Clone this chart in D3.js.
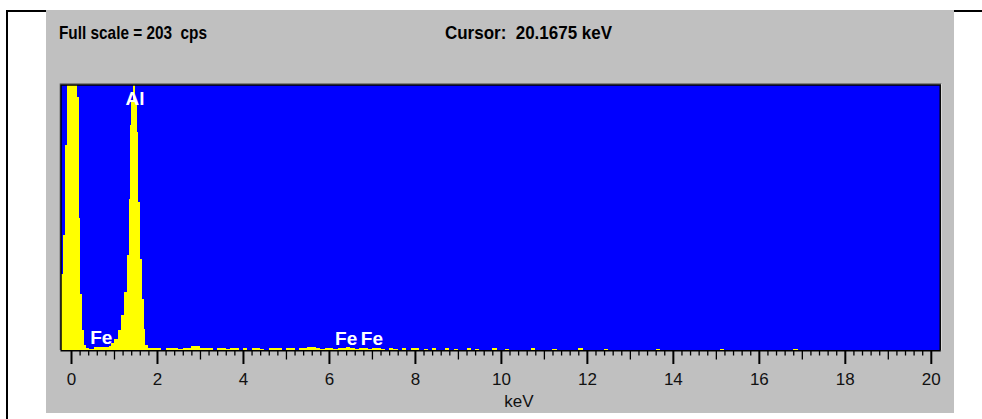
<!DOCTYPE html>
<html><head><meta charset="utf-8">
<script src="https://cdn.jsdelivr.net/npm/d3@7"></script>
<style>body{margin:0;background:#fff;} svg{display:block;} text{font-family:"Liberation Sans",Arial,sans-serif;}</style>
</head><body>
<svg id="c" width="982" height="419"></svg>
<script>
// ---- data ----
const fullScale = 203;            // cps
const cursorKeV = "20.1675";
// peak region bins: start energy (keV) and counts (cps)
const peakStart = [-0.233,-0.179,-0.147,-0.100,0.133,0.179,0.216,0.256,0.310,0.349,0.419,0.535,0.768,0.884,0.931,
  1.008,1.087,1.164,1.240,1.296,1.343,1.373,1.403,1.450,1.496,1.536,1.566,1.606,1.652,1.699,1.729,1.785];
const peakCps   = [58,88,157,600,194,101,43,15,3.6,1.5,1,2,2,3,5,
  8.7,15,26.6,44.4,72.5,116,172,190,215,190,167,113,70,39,16,3.6,1.5];
// background bins, 0.1 keV wide, from 1.9 keV
const bgStart = 1.9, bgWidth = 0.1;
const bgCps = [1.5,1.5,0,1.5,1.5,1.5,1,1.5,1.5,3,3,
  1.5,1.5,1.5,0,1.5,1.5,1,1.5,1.5,0,
  1.5,0,1.5,1.5,1,0,1.5,1.5,1.5,0,
  1.5,1.5,0,1.5,1.5,2.5,2.5,1.5,1,1.5,
  1.5,1,1.5,1.5,2,1.5,1,1.5,1.5,1,
  1.5,1.5,1,0,1.5,1,0,1.5,0,1.5,
  1.5,0,1,0,1.5,0,0,1.5,0,1,
  0,0,1.5,0,1,0,0,0,1.5,0,
  0,1,0,0,0,0,0,1.5,0,0,
  0,0,1,0,0,0,0,0,1.5,0,
  0,0,0,0,1,0,0,0,0,0,
  0,0,0,0,0,0,1,0,0,0,
  0,0,0,0,0,0,0,0,0,0,
  0,1,0,0,0,0,0,0,0,0,
  0,0,0,0,0,0,0,0,1,0,
  0,0,0,0,0,0,0,0,0,0,
  0,0,0,0,0,0,0,0,0,0,
  0,0,0,0,0,0,0,0,0,0,0,0,0];
const endKeV = 20.22;
const majorTicks = [0,2,4,6,8,10,12,14,16,18,20];
const tickLabels = ["0","2","4","6","8","10","12","14","16","18","20"];
const peakLabels = [["Fe",0.705,343.5],["Al",1.487,105],["Fe",6.40,345],["Fe",7.00,345]];

// ---- drawing ----
const svg = d3.select("#c");
const x = d3.scaleLinear().domain([0,20]).range([71,930.8]);
const y = d3.scaleLinear().domain([0,fullScale]).range([350,85]);
const L = x(-0.233), R = x(endKeV), T = y(fullScale), B = y(0);

svg.append("rect").attr("x",6).attr("y",10).attr("width",976).attr("height",2).attr("fill","#000");
svg.append("rect").attr("x",6).attr("y",10).attr("width",2).attr("height",409).attr("fill","#000");
svg.append("rect").attr("x",46).attr("y",10).attr("width",908).attr("height",403).attr("fill","#c0c0c0");

svg.append("text").attr("x",59).attr("y",39).attr("font-size",19).attr("font-weight","bold")
  .attr("textLength",148).attr("lengthAdjust","spacingAndGlyphs").style("white-space","pre")
  .text("Full scale = " + fullScale + "  cps");
svg.append("text").attr("x",445).attr("y",39).attr("font-size",19).attr("font-weight","bold")
  .attr("textLength",167).attr("lengthAdjust","spacingAndGlyphs").style("white-space","pre")
  .text("Cursor:  " + cursorKeV + " keV");

// plot background
svg.append("rect").attr("x",L).attr("y",T).attr("width",R-L).attr("height",B-T).attr("fill","#0000ff");
svg.append("clipPath").attr("id","clip").append("rect").attr("x",L).attr("y",T).attr("width",R-L).attr("height",B-T);

const pts = [];
peakStart.forEach((e,i)=>pts.push({e:e,c:peakCps[i]}));
bgCps.forEach((c,i)=>pts.push({e:bgStart+i*bgWidth,c:c}));
pts.push({e:endKeV+0.2,c:0});
const area = d3.area().curve(d3.curveStepAfter).x(d=>x(d.e)).y0(B).y1(d=>y(d.c));
svg.append("path").datum(pts).attr("d",area).attr("fill","#ffff00")
  .attr("clip-path","url(#clip)").attr("shape-rendering","crispEdges");

// sunken frame
svg.append("path").attr("d",`M${L-1},${B}V${T-1.5}H${R+1}`).attr("fill","none").attr("stroke","#808080").attr("stroke-width",1);
svg.append("path").attr("d",`M${L},${B}V${T}H${R}V${B}`).attr("fill","none").attr("stroke","#000").attr("stroke-width",1.5);
svg.append("line").attr("x1",R+1.2).attr("x2",R+1.2).attr("y1",T-1).attr("y2",B).attr("stroke","#dcdcdc").attr("stroke-width",1);
svg.append("rect").attr("x",L-0.5).attr("y",B).attr("width",R-L+1).attr("height",1.5).attr("fill","#000");

// axis ticks
const minor = d3.range(0,101).map(i=>i*0.2).filter(v=>Math.abs(v-Math.round(v))>1e-6);
const medium = d3.range(1,20,2);
const gMinor = svg.append("g").attr("transform",`translate(0,${B})`)
  .call(d3.axisBottom(x).tickValues(minor).tickSize(5.5).tickSizeOuter(0).tickFormat(""));
const gMed = svg.append("g").attr("transform",`translate(0,${B})`)
  .call(d3.axisBottom(x).tickValues(medium).tickSize(9.5).tickSizeOuter(0).tickFormat(""));
const gMaj = svg.append("g").attr("transform",`translate(0,${B})`)
  .call(d3.axisBottom(x).tickValues(majorTicks).tickSize(14).tickSizeOuter(0).tickFormat((d,i)=>tickLabels[i]));
[gMinor,gMed,gMaj].forEach(g=>{g.select(".domain").remove(); g.selectAll("line").attr("stroke","#000").attr("stroke-width",1.3);});
gMaj.selectAll("line").attr("stroke-width",2);
gMaj.selectAll("text").attr("y",35).attr("dy",0).attr("font-size",17).attr("fill","#111")
  .attr("font-family","'Liberation Sans',Arial,sans-serif");
svg.append("text").attr("x",519).attr("y",407).attr("text-anchor","middle").attr("font-size",17).attr("fill","#111").text("keV");

// peak labels
peakLabels.forEach(p=>{
  svg.append("text").attr("x",x(p[1])).attr("y",p[2]).attr("text-anchor","middle")
    .attr("font-size",19).attr("font-weight","bold").attr("fill","#fff").text(p[0]);
});
</script>
</body></html>
